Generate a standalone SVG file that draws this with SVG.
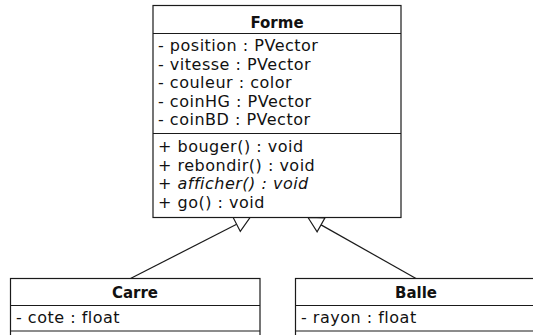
<svg xmlns="http://www.w3.org/2000/svg" width="533" height="335" viewBox="0 0 533 335">
<style>
.box{fill:#fff;stroke:#1a1a1a;stroke-width:1.2}
.sep{stroke:#1a1a1a;stroke-width:1.2}
.t{font-family:"DejaVu Sans",Verdana,sans-serif;font-size:16px;letter-spacing:0.5px;fill:#111}
.ti{font-family:"DejaVu Sans",Verdana,sans-serif;font-size:16px;letter-spacing:0.5px;font-style:italic;fill:#111}
.h{font-family:"DejaVu Sans",Verdana,sans-serif;font-size:15px;font-weight:bold;fill:#111;text-anchor:middle}
.edge{stroke:#1a1a1a;stroke-width:1.2;fill:none}
.head{fill:#fff;stroke:#1a1a1a;stroke-width:1.2;stroke-linejoin:miter}
</style>
<rect width="533" height="335" fill="#fff"/>
<g id="edges">
<line class="edge" x1="130.5" y1="278.5" x2="236.65" y2="224.3"/>
<polygon class="head" points="250,217.5 233,217.2 240.3,231.4"/>
<line class="edge" x1="416" y1="278.5" x2="321.06" y2="224.88"/>
<polygon class="head" points="308,217.5 325,217.9 317.1,231.85"/>
</g>
<g id="Forme">
<rect class="box" x="153" y="5.5" width="248" height="212"/>
<line class="sep" x1="153" y1="33.5" x2="401" y2="33.5"/>
<line class="sep" x1="153" y1="133.5" x2="401" y2="133.5"/>
<text class="h" x="277" y="27.5">Forme</text>
<text class="t" x="158" y="51">- position : PVector</text>
<text class="t" x="158" y="69.5">- vitesse : PVector</text>
<text class="t" x="158" y="88">- couleur : color</text>
<text class="t" x="158" y="106.5">- coinHG : PVector</text>
<text class="t" x="158" y="125">- coinBD : PVector</text>
<text class="t" x="158" y="152">+ bouger() : void</text>
<text class="t" x="158" y="170.5">+ rebondir() : void</text>
<text class="ti" x="158" y="189">+ afficher() : void</text>
<text class="t" x="158" y="207.5">+ go() : void</text>
</g>
<g id="Carre">
<rect class="box" x="10.5" y="278.5" width="249.5" height="70"/>
<line class="sep" x1="10.5" y1="305.5" x2="260" y2="305.5"/>
<line class="sep" x1="10.5" y1="331" x2="260" y2="331"/>
<text class="h" x="135" y="298">Carre</text>
<text class="t" x="16" y="322.7">- cote : float</text>
</g>
<g id="Balle">
<rect class="box" x="295.5" y="278.5" width="242" height="70"/>
<line class="sep" x1="295.5" y1="305.5" x2="537.5" y2="305.5"/>
<line class="sep" x1="295.5" y1="331" x2="537.5" y2="331"/>
<text class="h" x="416" y="298">Balle</text>
<text class="t" x="301" y="322.7">- rayon : float</text>
</g>
</svg>
